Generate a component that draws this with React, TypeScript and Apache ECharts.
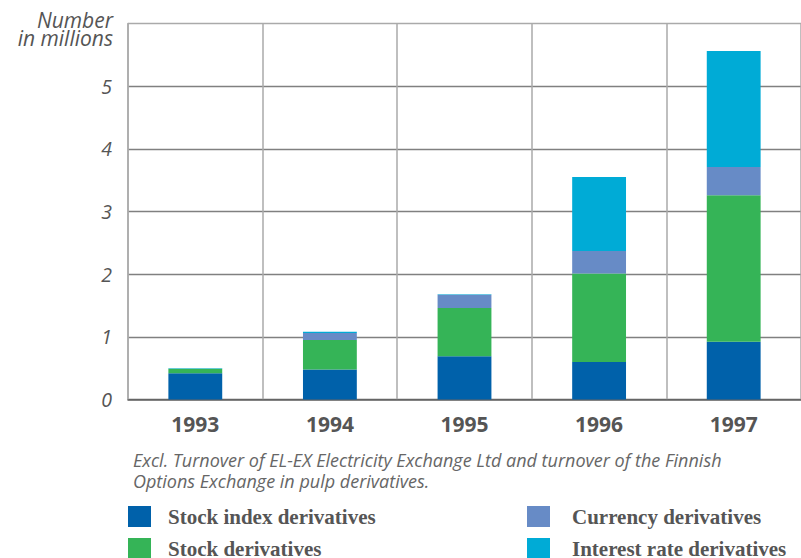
import React, { useEffect, useRef } from "react";
import * as echarts from "echarts";

const years = ["1993", "1994", "1995", "1996", "1997"];
const stockIndex = [0.42, 0.48, 0.69, 0.6, 0.92];
const stock = [0.07, 0.47, 0.77, 1.41, 2.34];
const currency = [0.0, 0.11, 0.21, 0.36, 0.45];
const interestRate = [0.01, 0.02, 0.01, 1.18, 1.85];
const seriesNames = [
  "Stock index derivatives",
  "Stock derivatives",
  "Currency derivatives",
  "Interest rate derivatives",
];
const seriesColors = ["#0061aa", "#35b457", "#678bc6", "#00abd6"];
const yTicks = [0, 1, 2, 3, 4, 5, 6];
const yTitleLines = ["Number", "in millions"];
const noteLines = [
  "Excl. Turnover of EL-EX Electricity Exchange Ltd and turnover of the Finnish",
  "Options Exchange in pulp derivatives.",
];

export default function App() {
  const ref = useRef<HTMLDivElement>(null);
  useEffect(() => {
    if (!ref.current) return;
    const chart = echarts.init(ref.current, null, { renderer: "svg" });
    const values = [stockIndex, stock, currency, interestRate];
    const legendText = {
      fontFamily: "Liberation Serif",
      fontWeight: "bold" as const,
      fontSize: 21,
      color: "#555555",
    };
    const yMax = yTicks[yTicks.length - 1];
    chart.setOption({
      animation: false,
      backgroundColor: "#ffffff",
      grid: { left: 128, top: 23.5, width: 680, height: 376, containLabel: false },
      xAxis: {
        type: "category",
        data: years,
        axisLine: { lineStyle: { color: "#666666", width: 1.5 } },
        axisTick: { show: false },
        axisLabel: {
          fontFamily: "Open Sans",
          fontWeight: "bold",
          fontSize: 21,
          color: "#555555",
          margin: 14,
        },
        splitLine: { show: true, lineStyle: { color: "#aaaaaa", width: 1.5 } },
      },
      yAxis: {
        type: "value",
        min: yTicks[0],
        max: yMax,
        interval: 1,
        axisLine: { show: true, lineStyle: { color: "#aaaaaa", width: 1.5 } },
        axisTick: { show: false },
        axisLabel: {
          fontFamily: "Open Sans",
          fontStyle: "italic",
          fontSize: 19.5,
          color: "#555555",
          margin: 16,
          formatter: (v: number) => (v === yMax ? "" : String(v)),
        },
        splitLine: {
          lineStyle: {
            color: ["#666666", "#808080", "#808080", "#808080", "#808080", "#808080", "#aaaaaa"],
            width: 1.3,
          },
        },
      },
      legend: [
        {
          orient: "vertical",
          left: 128,
          top: 506,
          height: 80,
          padding: 0,
          itemWidth: 23,
          itemHeight: 21,
          itemGap: 11,
          icon: "rect",
          data: seriesNames.slice(0, 2),
          textStyle: { ...legendText, padding: [0, 0, 0, 12] },
        },
        {
          orient: "vertical",
          left: 527,
          top: 506,
          height: 80,
          padding: 0,
          itemWidth: 23,
          itemHeight: 21,
          itemGap: 11,
          icon: "rect",
          data: seriesNames.slice(2),
          textStyle: { ...legendText, padding: [0, 0, 0, 17] },
        },
      ],
      graphic: [
        {
          type: "text",
          x: 113,
          y: 28.5,
          style: {
            text: yTitleLines.join("\n"),
            textAlign: "right",
            textVerticalAlign: "middle",
            fontFamily: "Open Sans",
            fontStyle: "italic",
            fontSize: 21,
            lineHeight: 18,
            fill: "#555555",
          },
        },
        {
          type: "text",
          x: 133,
          y: 470.25,
          style: {
            text: noteLines.join("\n"),
            textVerticalAlign: "middle",
            fontFamily: "Open Sans",
            fontStyle: "italic",
            fontSize: 18,
            lineHeight: 20.5,
            fill: "#666666",
          },
        },
      ],
      series: seriesNames.map((name, i) => ({
        name,
        type: "bar",
        stack: "total",
        barWidth: "40%",
        data: values[i],
        itemStyle: { color: seriesColors[i] },
      })),
    });
    return () => chart.dispose();
  }, []);
  return (
    <div
      ref={ref}
      style={{ position: "fixed", left: 0, top: 0, width: 801, height: 558 }}
    />
  );
}
